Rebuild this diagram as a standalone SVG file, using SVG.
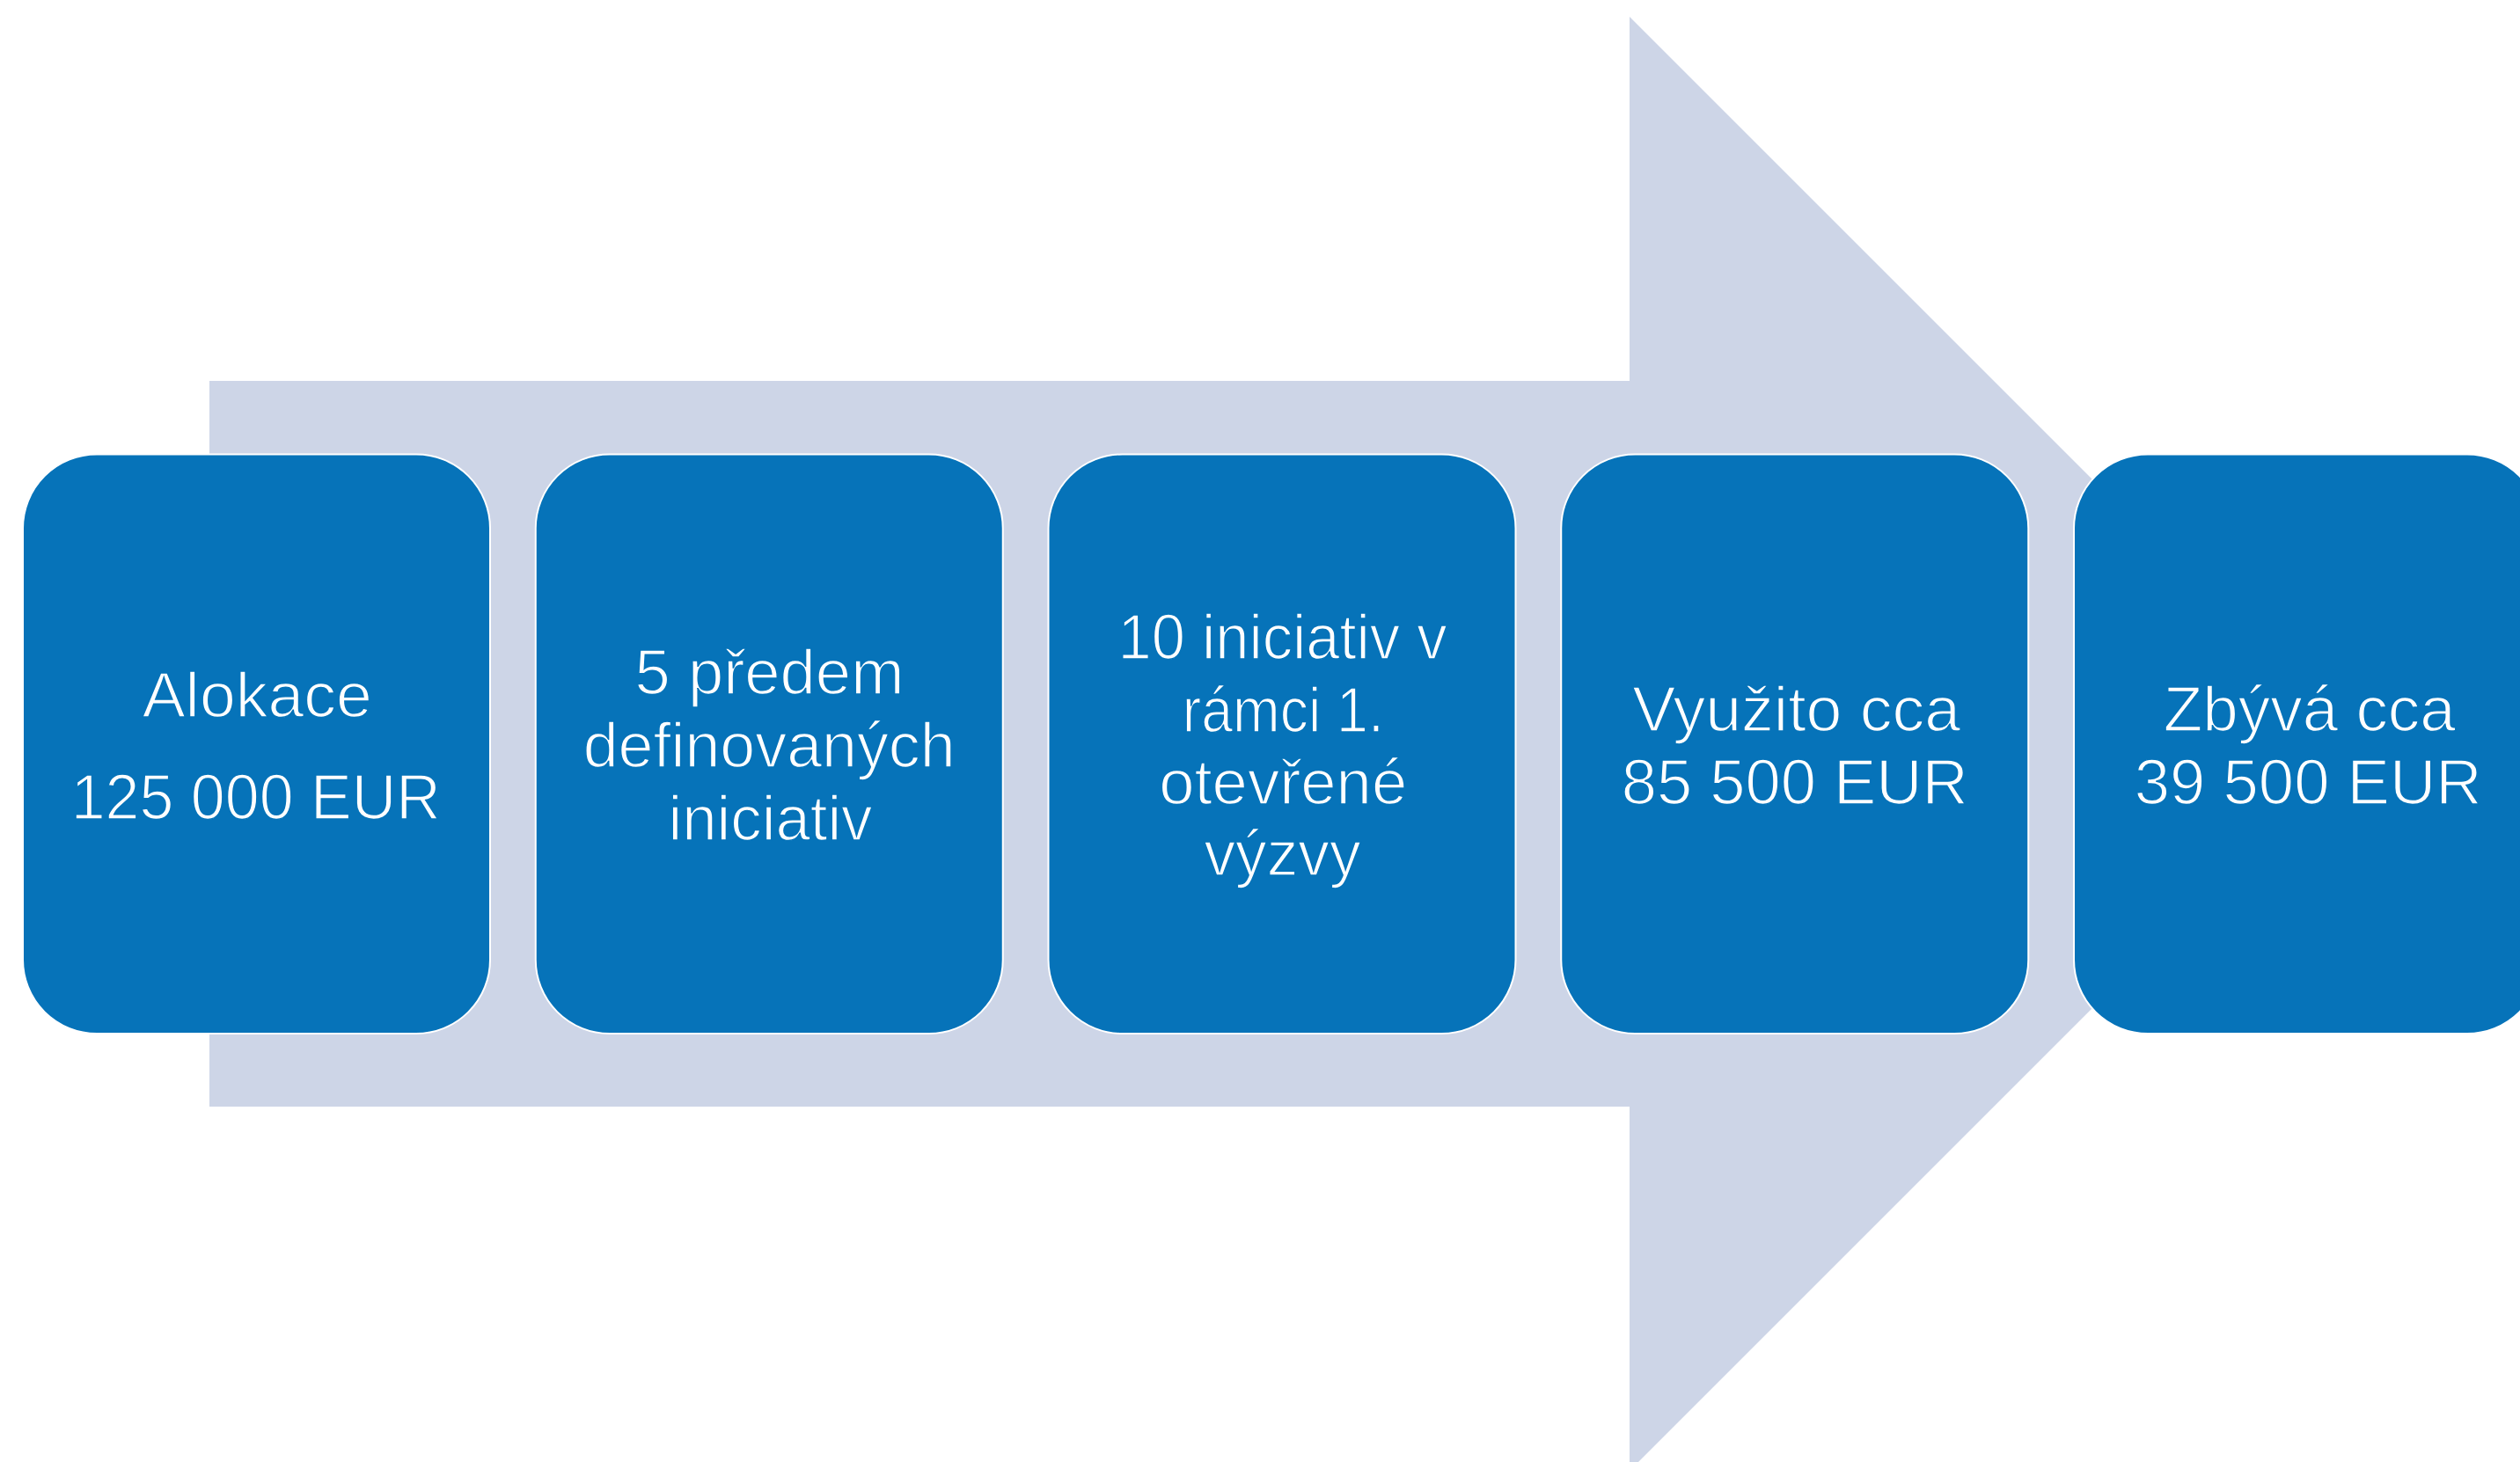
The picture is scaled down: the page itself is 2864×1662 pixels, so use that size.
<svg xmlns="http://www.w3.org/2000/svg" width="2864" height="1662" viewBox="0 0 2864 1662">
<style>
.box{fill:#0673B9;stroke:#FFFFFF;stroke-width:2}
.t{fill:#FFFFFF;stroke:#0673B9;stroke-width:1.6;font-family:"Liberation Sans",Arial,Helvetica,sans-serif;font-size:73px;text-anchor:middle}
</style>
<rect width="2864" height="1662" fill="#FFFFFF"/>
<g id="arrow">
<polygon points="238,433 1852,433 1852,19 2678.5,845.5 1852,1672 1852,1258 238,1258" fill="#CDD5E7"/>
</g>
<g id="connectors"></g>
<g id="node1">
<rect class="box" x="26" y="516.5" width="531" height="658.5" rx="84" ry="84"/>
<text class="t" x="292.2" y="815" textLength="261" lengthAdjust="spacingAndGlyphs">Alokace</text>
<text class="t" x="290.7" y="930.7" textLength="420" lengthAdjust="spacingAndGlyphs">125 000 EUR</text>
</g>
<g id="node2">
<rect class="box" x="608.75" y="516.5" width="531" height="658.5" rx="84" ry="84"/>
<text class="t" x="874.5" y="789.3" textLength="306" lengthAdjust="spacingAndGlyphs">5 předem</text>
<text class="t" x="874.2" y="872.3" textLength="423" lengthAdjust="spacingAndGlyphs">definovaných</text>
<text class="t" x="875.5" y="955" textLength="232" lengthAdjust="spacingAndGlyphs">iniciativ</text>
</g>
<g id="node3">
<rect class="box" x="1191.5" y="516.5" width="531" height="658.5" rx="84" ry="84"/>
<text class="t" x="1457.5" y="749" textLength="374" lengthAdjust="spacingAndGlyphs">10 iniciativ v</text>
<text class="t" x="1458.3" y="831.7" textLength="229" lengthAdjust="spacingAndGlyphs">rámci 1.</text>
<text class="t" x="1458.2" y="914" textLength="282" lengthAdjust="spacingAndGlyphs">otevřené</text>
<text class="t" x="1457.5" y="995" textLength="178" lengthAdjust="spacingAndGlyphs">výzvy</text>
</g>
<g id="node4">
<rect class="box" x="1774.25" y="516.5" width="531" height="658.5" rx="84" ry="84"/>
<text class="t" x="2041.7" y="830.7" textLength="373" lengthAdjust="spacingAndGlyphs">Využito cca</text>
<text class="t" x="2039.7" y="914" textLength="394" lengthAdjust="spacingAndGlyphs">85 500 EUR</text>
</g>
<g id="node5">
<rect class="box" x="2357" y="516.5" width="531" height="658.5" rx="84" ry="84"/>
<text class="t" x="2624.8" y="830.7" textLength="332" lengthAdjust="spacingAndGlyphs">Zbývá cca</text>
<text class="t" x="2623.2" y="914" textLength="395" lengthAdjust="spacingAndGlyphs">39 500 EUR</text>
</g>
</svg>
